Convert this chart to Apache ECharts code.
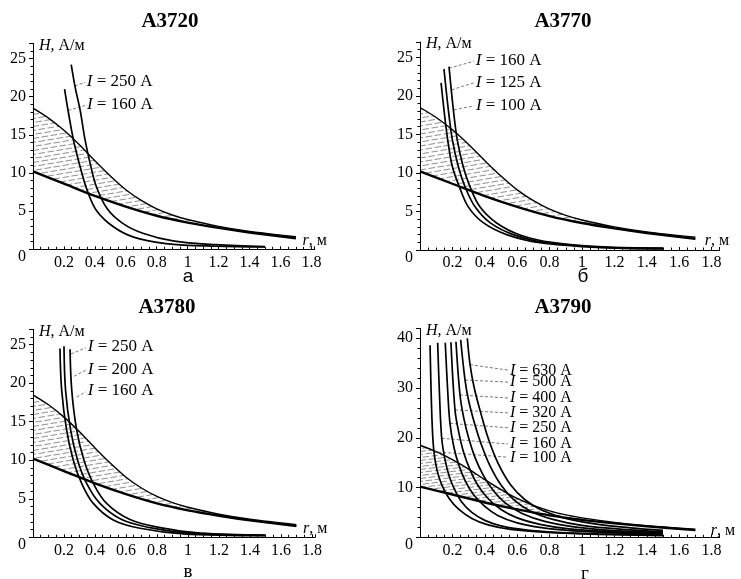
<!DOCTYPE html>
<html><head><meta charset="utf-8">
<script src="https://cdn.jsdelivr.net/npm/echarts@6/dist/echarts.min.js"></script>
<style>html,body{margin:0;padding:0;background:#fff}#c{width:741px;height:579px}</style>
</head><body><div id="c"></div>
<script>
// ---- shared band boundaries [r, H] ----
const upperBand = [[0,18.5],[0.1,17.2],[0.2,15.6],[0.3,13.7],[0.4,11.6],[0.5,9.6],[0.6,7.8],[0.7,6.4],[0.8,5.3],[0.9,4.5],[1.0,3.9],[1.2,3.0],[1.4,2.35],[1.7,1.65]];
const lowerBand = [[0,10.2],[0.2,8.6],[0.4,7.0],[0.6,5.6],[0.8,4.4],[1.0,3.5],[1.2,2.8],[1.4,2.2],[1.7,1.45]];

// ---- А3720 ----
const a_I250 = [[0.247,24.2],[0.273,21.2],[0.305,18.2],[0.337,14.3],[0.37,11.2],[0.41,8.2],[0.48,5.3],[0.58,3.4],[0.71,2.1],[0.905,1.1],[1.18,0.6],[1.5,0.35]];
const a_I160 = [[0.204,21.0],[0.23,17.8],[0.262,14.3],[0.305,10.8],[0.35,7.75],[0.41,5.1],[0.52,2.95],[0.65,1.6],[0.86,0.75],[1.18,0.4],[1.5,0.3]];
// ---- А3770 ----
const b_I160 = [[0.179,23.8],[0.206,18.2],[0.23,14.3],[0.267,10.8],[0.309,8.2],[0.37,5.6],[0.473,3.5],[0.617,1.95],[0.823,0.95],[1.13,0.4],[1.5,0.25]];
const b_I125 = [[0.148,23.5],[0.175,18.2],[0.2,14.3],[0.237,10.8],[0.278,8.2],[0.34,5.6],[0.432,3.55],[0.576,2.0],[0.78,0.95],[1.13,0.35],[1.5,0.2]];
const b_I100 = [[0.13,21.7],[0.148,18.2],[0.171,14.3],[0.2,10.8],[0.243,8.2],[0.298,5.6],[0.39,3.55],[0.535,2.0],[0.74,0.95],[1.09,0.35],[1.5,0.15]];
// ---- А3780 ----
const c_I250 = [[0.239,24.4],[0.25,19.1],[0.282,13.9],[0.329,10.0],[0.389,7.0],[0.475,4.4],[0.626,2.3],[0.82,1.25],[1.08,0.55],[1.5,0.3]];
const c_I200 = [[0.2,24.8],[0.21,19.1],[0.243,13.9],[0.288,10.0],[0.346,7.0],[0.432,4.4],[0.572,2.3],[0.755,1.25],[1.03,0.5],[1.5,0.25]];
const c_I160 = [[0.174,24.5],[0.185,19.1],[0.217,13.9],[0.26,10.0],[0.314,7.0],[0.389,4.4],[0.518,2.25],[0.69,1.17],[0.97,0.45],[1.5,0.2]];
// ---- А3790 ----
const d_I630 = [[0.292,40],[0.309,34.7],[0.335,30],[0.375,25],[0.42,20],[0.48,15],[0.56,10.5],[0.65,7.5],[0.75,5.5],[0.9,3.8],[1.1,2.6],[1.3,1.9],[1.5,1.4]];
const d_I500 = [[0.251,39.7],[0.278,31.6],[0.3,27.5],[0.34,22.5],[0.38,18.5],[0.43,14.5],[0.5,10.5],[0.58,7.5],[0.68,5.3],[0.82,3.6],[1.0,2.4],[1.25,1.6],[1.5,1.15]];
const d_I400 = [[0.222,39.3],[0.247,28.6],[0.27,24],[0.3,20],[0.34,16],[0.39,12.5],[0.45,9.5],[0.53,6.8],[0.63,4.8],[0.77,3.2],[0.95,2.1],[1.2,1.35],[1.5,0.95]];
const d_I320 = [[0.191,39.2],[0.216,25.6],[0.24,21],[0.27,17],[0.31,13.5],[0.36,10.3],[0.42,7.8],[0.5,5.6],[0.6,3.9],[0.74,2.6],[0.92,1.7],[1.2,1.1],[1.5,0.8]];
const d_I250 = [[0.156,39.1],[0.17,30],[0.185,22.9],[0.21,18],[0.24,14.5],[0.28,11.3],[0.33,8.6],[0.4,6.2],[0.48,4.4],[0.6,2.9],[0.75,1.95],[0.95,1.3],[1.2,0.9],[1.5,0.65]];
const d_I160 = [[0.109,39.1],[0.12,29],[0.134,19.9],[0.155,15.5],[0.18,12.3],[0.215,9.5],[0.26,7.0],[0.32,5.0],[0.4,3.4],[0.5,2.3],[0.65,1.5],[0.85,1.0],[1.1,0.7],[1.5,0.45]];
const d_I100 = [[0.062,38.6],[0.068,30],[0.076,22],[0.086,17.2],[0.105,13.5],[0.135,10.5],[0.18,7.8],[0.24,5.6],[0.32,3.8],[0.42,2.5],[0.56,1.6],[0.78,1.0],[1.1,0.6],[1.5,0.35]];

// tick step, titles, sub-labels
const xTickStep = 0.2;
const titles = ['А3720','А3770','А3780','А3790'];
const subLabels = ['а','б','в','г'];

// ---- layout / annotation config ----
const panels = [
  { grid:{left:33, top:43.3, width:281.5, height:206}, xMax:1.82, yMax:27, yInt:5, hatchH:4, labelSize:17,
    title:[170,22], sub:[188,277], subFont:'Liberation Sans',
    curves:[ {data:a_I250, I:'250', lead:[[0.271,21.4],[0.336,21.9]]},
             {data:a_I160, I:'160', lead:[[0.228,18.2],[0.336,18.85]]} ] },
  { grid:{left:420, top:42, width:299.7, height:208}, xMax:1.85, yMax:27, yInt:5, hatchH:4, labelSize:17,
    title:[563,22], sub:[583,277], subFont:'Liberation Sans',
    curves:[ {data:b_I160, I:'160', lead:[[0.179,23.6],[0.333,24.5]]},
             {data:b_I125, I:'125', lead:[[0.196,20.8],[0.333,21.7]]},
             {data:b_I100, I:'100', lead:[[0.21,18.2],[0.333,18.7]]} ] },
  { grid:{left:33, top:329.3, width:282, height:208}, xMax:1.82, yMax:27, yInt:5, hatchH:4, labelSize:17,
    title:[167,308], sub:[188,572], subFont:'Liberation Serif',
    curves:[ {data:c_I250, I:'250', lead:[[0.245,23.8],[0.342,24.6]]},
             {data:c_I200, I:'200', lead:[[0.265,20.9],[0.342,21.7]]},
             {data:c_I160, I:'160', lead:[[0.282,18.2],[0.342,18.9]]} ] },
  { grid:{left:420, top:328.3, width:299.7, height:209}, xMax:1.85, yMax:42, yInt:10, hatchH:3, labelSize:16,
    title:[563,308], sub:[585,574], subFont:'Liberation Serif',
    curves:[ {data:d_I630, I:'630', lead:[[0.309,34.7],[0.543,33.6]]},
             {data:d_I500, I:'500', lead:[[0.278,31.6],[0.543,31.2]]},
             {data:d_I400, I:'400', lead:[[0.247,28.6],[0.543,28.0]]},
             {data:d_I320, I:'320', lead:[[0.216,25.6],[0.543,25.0]]},
             {data:d_I250, I:'250', lead:[[0.185,22.9],[0.543,22.0]]},
             {data:d_I160, I:'160', lead:[[0.134,19.9],[0.543,18.75]]},
             {data:d_I100, I:'100', lead:[[0.082,17.2],[0.543,16.1]]} ] }
];

// dashed, slightly rising hatch tile; dash gaps staggered between neighbouring lines
function makeHatch(s){
  const w = 24, h = 3*s, period = 9, gap = 2.5, offs = [0, 6, 3];
  const c = document.createElement('canvas');
  c.width = w; c.height = h;
  const g = c.getContext('2d');
  g.fillStyle = '#fff'; g.fillRect(0,0,w,h);
  g.strokeStyle = '#6a6a6a'; g.lineWidth = 0.75;
  const yAt = (row, x) => s*(row+1) - x*s/w;
  for (let row = 0; row < 3; row++) {
    for (let m = -2; m < 5; m++) {
      let xs = offs[row] + m*period + gap, xe = offs[row] + (m+1)*period;
      xs = Math.max(0, xs); xe = Math.min(w, xe);
      if (xe <= xs) continue;
      for (const dy of [-h, 0, h]) {
        g.beginPath(); g.moveTo(xs, yAt(row, xs) + dy); g.lineTo(xe, yAt(row, xe) + dy); g.stroke();
      }
    }
  }
  return c;
}

const FONT = 'Liberation Serif';
const grids = [], xAxes = [], yAxes = [], series = [], graphics = [];

panels.forEach((p, i) => {
  grids.push(p.grid);
  xAxes.push({
    type:'value', gridIndex:i, min:0, max:p.xMax, interval:xTickStep, z:10,
    name:'{i|r}, м', nameLocation:'end', nameGap: i===3 ? -9 : (i===1 ? -15 : -12),
    nameTextStyle:{ fontFamily:FONT, fontSize:16, color:'#000', align:'left', verticalAlign:'bottom', padding:[0,0,i===3?-1:1,0],
      rich:{ i:{fontStyle:'italic', fontFamily:FONT, fontSize:16, color:'#000'} } },
    axisLine:{ lineStyle:{color:'#000', width:1} },
    axisTick:{ inside:true, length:3, lineStyle:{color:'#000'} },
    minorTick:{ show:true, splitNumber:4, length:2.5, lineStyle:{color:'#000'} },
    splitLine:{show:false},
    axisLabel:{ fontFamily:FONT, fontSize:16, color:'#000', margin:5, showMaxLabel:false, showMinLabel:false,
      formatter: v => v === 0 ? '' : String(parseFloat(v.toFixed(1))) }
  });
  yAxes.push({
    type:'value', gridIndex:i, min:0, max:p.yMax, interval:p.yInt, z:10,
    name:'{i|H}, А/м', nameLocation:'end', nameGap:-2,
    nameTextStyle:{ fontFamily:FONT, fontSize:16, color:'#000', align:'left', verticalAlign:'middle', padding:[0,0,0,6],
      rich:{ i:{fontStyle:'italic', fontFamily:FONT, fontSize:16, color:'#000'} } },
    axisLine:{ lineStyle:{color:'#000', width:1} },
    axisTick:{ inside:false, length:4, lineStyle:{color:'#000'} },
    minorTick:{ show:true, splitNumber:5, length:2.5, lineStyle:{color:'#000'} },
    splitLine:{show:false},
    axisLabel:{ fontFamily:FONT, fontSize:16, color:'#000', margin:7, showMaxLabel:false,
      formatter: v => v === 0 ? '{z|0}' : String(v),
      rich:{ z:{ padding:[15,0,0,0], fontFamily:FONT, fontSize:16, color:'#000' } } }
  });
  // hatched band: upper boundary area with pattern, then white area under lower boundary
  series.push({
    type:'line', xAxisIndex:i, yAxisIndex:i, data:upperBand, smooth:0.3, showSymbol:false, z:2,
    lineStyle:{ color:'#000', width:1.4 },
    areaStyle:{ color:{ image:makeHatch(p.hatchH), repeat:'repeat' }, opacity:1 }, silent:true
  });
  series.push({
    type:'line', xAxisIndex:i, yAxisIndex:i, data:lowerBand, smooth:0.3, showSymbol:false, z:3,
    lineStyle:{ color:'#000', width:2.4 },
    areaStyle:{ color:'#fff', opacity:1 }, silent:true
  });
  p.curves.forEach(cv => {
    series.push({
      type:'line', xAxisIndex:i, yAxisIndex:i, data:cv.data, smooth:0.35, showSymbol:false, z:5, silent:true,
      lineStyle:{ color:'#000', width:1.7 },
      markLine:{
        silent:true, symbol:'none', animation:false,
        lineStyle:{ type:[3,2], color:'#555', width:0.8 },
        label:{ show:true, position:'end', distance:2, formatter:'{i|I} = ' + cv.I + ' А',
          fontFamily:FONT, fontSize:p.labelSize, color:'#000',
          rich:{ i:{ fontStyle:'italic', fontFamily:FONT, fontSize:p.labelSize, color:'#000' } } },
        emphasis:{ disabled:true },
        data:[[ {coord:cv.lead[0]}, {coord:cv.lead[1]} ]]
      }
    });
  });
  graphics.push({ type:'text', x:p.title[0], y:p.title[1], style:{ text:titles[i], fontFamily:FONT, fontWeight:'bold', fontSize:21, fill:'#000', align:'center', verticalAlign:'middle' } });
  graphics.push({ type:'text', x:p.sub[0], y:p.sub[1], style:{ text:subLabels[i], fontFamily:p.subFont, fontSize:19, fill:'#000', align:'center', verticalAlign:'middle' } });
});

const chart = echarts.init(document.getElementById('c'), null, {renderer:'canvas'});
chart.setOption({
  animation:false, backgroundColor:'#fff',
  grid:grids, xAxis:xAxes, yAxis:yAxes, series:series, graphic:graphics
});
</script></body></html>
